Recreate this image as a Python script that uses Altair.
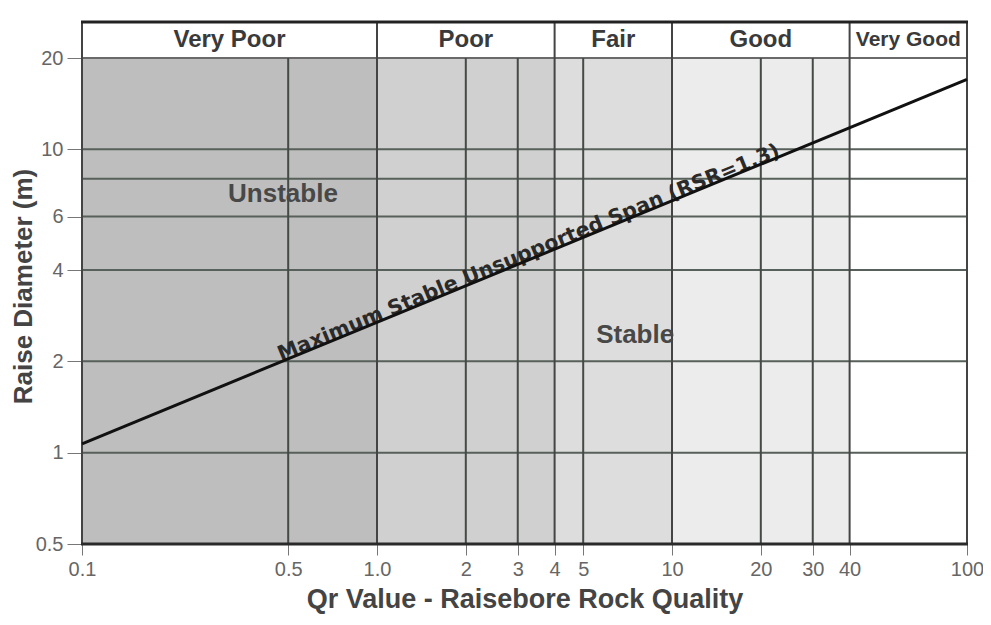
import altair as alt
import pandas as pd

# ---- data ----
bands = ["Very Poor", "Poor", "Fair", "Good", "Very Good"]
band_lo = [0.1, 1, 4, 10, 40]
band_hi = [1, 4, 10, 40, 100]

line_q = [0.1, 100]
line_d = [1.07, 17.0]

x_ticks = [0.1, 0.5, 1, 2, 3, 4, 5, 10, 20, 30, 40, 100]
y_ticks = [0.5, 1, 2, 4, 6, 10, 20]
x_grid = [0.5, 2, 3, 5, 20, 30]
x_bounds = [0.1, 1, 4, 10, 40, 100]
y_grid = [1, 2, 4, 6, 8, 10]

region_text = ["Unstable", "Stable"]
region_q = [0.48, 7.5]
region_d = [7.1, 2.44]

line_label = "Maximum Stable Unsupported Span (RSR=1.3)"
line_label_q = [3.42]
line_label_d = [4.1]

# ---- layout ----
W, H = 885, 486
HEADER = 36
FONT = "Liberation Sans"

xscale = alt.Scale(type="log", domain=[0.1, 100], nice=False)
yscale = alt.Scale(type="log", domain=[0.5, 20], nice=False)

XAXIS = alt.Axis(
    values=x_ticks,
    labelExpr="datum.value == 1 ? '1.0' : toString(datum.value)",
    title="Qr Value - Raisebore Rock Quality",
    grid=False, domain=False,
    tickSize=11, tickColor="#777777", tickWidth=1,
    labelFont=FONT, labelFontSize=20, labelColor="#666666", labelPadding=4,
    labelFlush=False, labelOverlap=False,
    titleFont=FONT, titleFontSize=27, titleFontWeight="bold", titleColor="#444444",
    titlePadding=7,
)
YAXIS = alt.Axis(
    values=y_ticks,
    labelExpr="toString(datum.value)",
    title="Raise Diameter (m)",
    grid=False, domain=False,
    tickSize=15, tickColor="#777777", tickWidth=1,
    labelFont=FONT, labelFontSize=20, labelColor="#666666", labelPadding=4,
    labelFlush=False, labelOverlap=False,
    titleFont=FONT, titleFontSize=26, titleFontWeight="bold", titleColor="#444444",
    titleX=-59, titleY=228, titleBaseline="middle", titleAlign="center", titleAngle=270,
)


def X(field):
    return alt.X(field, scale=xscale, axis=XAXIS)


def Y(field):
    return alt.Y(field, scale=yscale, axis=YAXIS)


band_df = pd.DataFrame({"band": bands, "lo": band_lo, "hi": band_hi})
line_df = pd.DataFrame({"q": line_q, "d": line_d})

fills = alt.Scale(domain=bands, range=["#bebebe", "#d0d0d0", "#dddddd", "#ececec", "#ffffff"])

shade = alt.Chart(band_df).mark_rect().encode(
    x=X("lo:Q"),
    x2="hi:Q",
    y=alt.value(0),
    y2=alt.value(H),
    color=alt.Color("band:N", scale=fills, legend=None),
)

header_bg = alt.Chart(band_df).mark_rect(color="white").encode(
    x=X("lo:Q"),
    x2="hi:Q",
    y=alt.value(-HEADER),
    y2=alt.value(0),
)

hgrid = alt.Chart(pd.DataFrame({"d": y_grid})).mark_rule(color="#57605a", strokeWidth=2).encode(
    y=Y("d:Q"),
    x=alt.value(0),
    x2=alt.value(W),
)

top_line = alt.Chart(pd.DataFrame({"d": [20]})).mark_rule(color="#6a6a6a", strokeWidth=2).encode(
    y=Y("d:Q"),
    x=alt.value(0),
    x2=alt.value(W),
)

vgrid = alt.Chart(pd.DataFrame({"q": x_grid})).mark_rule(color="#444a46", strokeWidth=2).encode(
    x=X("q:Q"),
    y=alt.value(0),
    y2=alt.value(H),
)

vbounds = alt.Chart(pd.DataFrame({"q": x_bounds})).mark_rule(color="#444444", strokeWidth=2).encode(
    x=X("q:Q"),
    y=alt.value(-HEADER),
    y2=alt.value(H),
)

header_top = alt.Chart(pd.DataFrame({"q": [0.1]})).mark_rule(color="#222222", strokeWidth=3).encode(
    x=alt.value(-1),
    x2=alt.value(W + 1),
    y=alt.value(-HEADER),
)

bottom_line = alt.Chart(pd.DataFrame({"d": [0.5]})).mark_rule(color="#2a2a2a", strokeWidth=3).encode(
    y=Y("d:Q"),
    x=alt.value(-1),
    x2=alt.value(W + 1),
)

header_text = alt.Chart(band_df).transform_calculate(
    mid="sqrt(datum.lo * datum.hi)"
).mark_text(font=FONT, fontWeight="bold", color="#3a3a3a", baseline="middle").encode(
    x=X("mid:Q"),
    y=alt.value(-HEADER / 2),
    text="band:N",
    size=alt.condition(alt.datum.band == "Very Good", alt.value(21), alt.value(24)),
)

regions = alt.Chart(pd.DataFrame({"t": region_text, "q": region_q, "d": region_d})).mark_text(
    font=FONT, fontSize=26, fontWeight="bold", color="#484848", baseline="middle"
).encode(
    x=X("q:Q"),
    y=Y("d:Q"),
    text="t:N",
)

lbl = alt.Chart(pd.DataFrame({"t": [line_label], "q": line_label_q, "d": line_label_d})).mark_text(
    font="DejaVu Sans", fontSize=20.5, fontWeight="bold", color="#2a2a2a", baseline="bottom",
    angle=337.7, dy=-5,
).encode(
    x=X("q:Q"),
    y=Y("d:Q"),
    text="t:N",
)

line = alt.Chart(line_df).mark_line(color="#111111", strokeWidth=3).encode(
    x=X("q:Q"),
    y=Y("d:Q"),
)

chart = alt.layer(
    shade, header_bg, hgrid, top_line, vgrid, vbounds, header_top, bottom_line,
    header_text, regions, lbl, line,
).properties(
    width=W, height=H,
    autosize=alt.AutoSizeParams(type="none"),
    padding={"left": 74, "top": 50, "right": 16, "bottom": 73},
    background="white",
).configure_view(stroke=None)

chart.save("out.html", embed_options={"renderer": "svg", "actions": False})
